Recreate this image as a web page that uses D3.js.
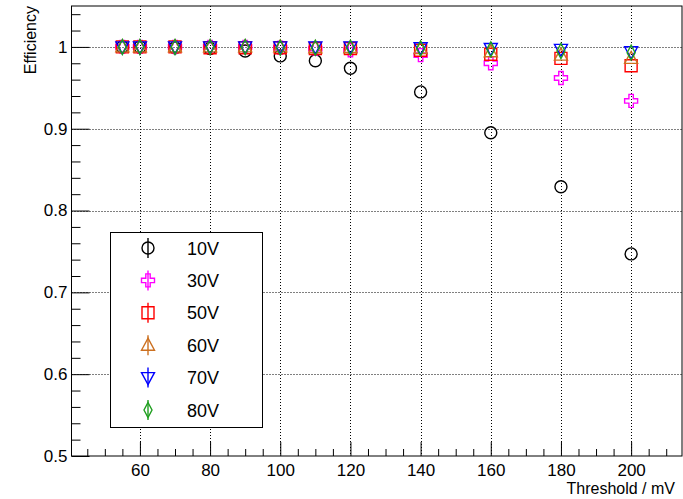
<!DOCTYPE html>
<html>
<head>
<meta charset="utf-8">
<script src="https://cdn.jsdelivr.net/npm/d3@7"></script>
<style>
  html, body { margin: 0; padding: 0; background: #fff; }
  svg { display: block; font-family: "Liberation Sans", Arial, Helvetica, sans-serif; }
</style>
</head>
<body>
<svg id="chart" width="683" height="499"></svg>
<script>
// Threshold scan: detection efficiency vs. discriminator threshold, per bias voltage
const thresholds = [55, 60, 70, 80, 90, 100, 110, 120, 140, 160, 180, 200];
const seriesNames = ["10V", "30V", "50V", "60V", "70V", "80V"];
const eff10V = [1.000, 1.000, 0.999, 0.998, 0.995, 0.989, 0.983, 0.974, 0.945, 0.895, 0.829, 0.747];
const eff30V = [1.000, 1.000, 1.000, 1.000, 1.000, 0.999, 0.998, 0.996, 0.990, 0.980, 0.962, 0.934];
const eff50V = [1.000, 1.000, 1.000, 0.999, 0.999, 0.999, 0.998, 0.998, 0.996, 0.991, 0.986, 0.977];
const eff60V = [1.000, 1.000, 1.000, 1.000, 1.000, 1.000, 0.999, 0.999, 0.998, 0.994, 0.990, 0.986];
const eff70V = [1.000, 1.000, 1.000, 1.000, 1.000, 1.000, 1.000, 1.000, 0.999, 0.998, 0.997, 0.994];
const eff80V = [1.000, 1.000, 1.000, 1.000, 1.000, 0.999, 0.999, 0.999, 0.998, 0.997, 0.995, 0.993];
const xTickValues = [60, 80, 100, 120, 140, 160, 180, 200];
const yTickValues = [0.5, 0.6, 0.7, 0.8, 0.9, 1.0];

const seriesValues = [eff10V, eff30V, eff50V, eff60V, eff70V, eff80V];
const colors = ["#000000", "#ff00ff", "#ff0000", "#cc7020", "#0000ff", "#1f9f1f"];
const shapes = ["circle", "cross", "square", "triUp", "triDown", "diamond"];

const svg = d3.select("#chart");
const frame = { left: 71.5, right: 682, top: 6, bottom: 456 };

const x = d3.scaleLinear().domain([40.5, 214.5]).range([frame.left, frame.right]);
const y = d3.scaleLinear().domain([0.5, 1.05]).range([frame.bottom, frame.top]);

// Dotted grid at the major ticks
const grid = svg.append("g").attr("stroke", "#000").attr("stroke-width", 1)
  .attr("stroke-dasharray", "1,2");
xTickValues.forEach(v => grid.append("line")
  .attr("x1", Math.round(x(v)) + 0.5).attr("x2", Math.round(x(v)) + 0.5)
  .attr("y1", frame.top).attr("y2", frame.bottom));
yTickValues.slice(1).forEach(v => grid.append("line")
  .attr("x1", frame.left).attr("x2", frame.right)
  .attr("y1", Math.round(y(v)) + 0.5).attr("y2", Math.round(y(v)) + 0.5));

// Axes: major + minor ticks drawn inward
const xMinor = d3.range(45, 215, 5).filter(v => v % 20 !== 0);
const yMinor = d3.range(0, 28).map(i => +(0.5 + i * 0.02).toFixed(2))
  .filter(v => Math.abs(v * 10 - Math.round(v * 10)) > 1e-6);

svg.append("g").attr("transform", `translate(0,${frame.bottom})`)
  .call(d3.axisBottom(x).tickValues(xTickValues).tickSize(-14).tickPadding(8)
    .tickFormat(d3.format("d")));
svg.append("g").attr("transform", `translate(0,${frame.bottom})`)
  .call(d3.axisBottom(x).tickValues(xMinor).tickSize(-7).tickFormat(""));

svg.append("g").attr("transform", `translate(${frame.left},0)`)
  .call(d3.axisLeft(y).tickValues(yTickValues).tickSize(-18).tickPadding(4)
    .tickFormat(d => d === 1 ? "1" : d3.format(".1f")(d)));
svg.append("g").attr("transform", `translate(${frame.left},0)`)
  .call(d3.axisLeft(y).tickValues(yMinor).tickSize(-9).tickFormat(""));

svg.selectAll(".domain").remove();
svg.selectAll(".tick line").attr("stroke", "#000");
svg.selectAll(".tick text").attr("font-size", 17).attr("fill", "#000")
  .attr("font-family", "Liberation Sans, Arial, sans-serif");

// Frame
svg.append("rect").attr("x", frame.left).attr("y", frame.top)
  .attr("width", frame.right - frame.left).attr("height", frame.bottom - frame.top)
  .attr("fill", "none").attr("stroke", "#000").attr("stroke-width", 1);

// Axis titles
svg.append("text").attr("x", 675).attr("y", 494).attr("text-anchor", "end")
  .attr("font-size", 16).text("Threshold / mV");
svg.append("text").attr("transform", `translate(36,${frame.top}) rotate(-90)`)
  .attr("text-anchor", "end").attr("font-size", 16).text("Efficiency");

// Open marker shapes, centred at the origin
function markerPath(shape) {
  const p = d3.path();
  switch (shape) {
    case "circle": p.arc(0, 0, 6, 0, 2 * Math.PI); break;
    case "square": p.rect(-6, -6, 12, 12); break;
    case "triUp": p.moveTo(0, -7); p.lineTo(6.5, 5); p.lineTo(-6.5, 5); p.closePath(); break;
    case "triDown": p.moveTo(0, 7); p.lineTo(6.5, -5); p.lineTo(-6.5, -5); p.closePath(); break;
    case "diamond": p.moveTo(0, -7.5); p.lineTo(4, 0); p.lineTo(0, 7.5); p.lineTo(-4, 0); p.closePath(); break;
    case "cross": {
      const a = 2.2, b = 6.5;
      p.moveTo(-a, -b); p.lineTo(a, -b); p.lineTo(a, -a); p.lineTo(b, -a); p.lineTo(b, a);
      p.lineTo(a, a); p.lineTo(a, b); p.lineTo(-a, b); p.lineTo(-a, a); p.lineTo(-b, a);
      p.lineTo(-b, -a); p.lineTo(-a, -a); p.closePath(); break;
    }
  }
  return p.toString();
}

// Data points
seriesValues.forEach((vals, si) => {
  svg.append("g").selectAll("path")
    .data(thresholds.map((t, i) => [t, vals[i]]))
    .join("path")
    .attr("transform", d => `translate(${x(d[0])},${y(d[1])})`)
    .attr("d", markerPath(shapes[si]))
    .attr("fill", "none").attr("stroke", colors[si]).attr("stroke-width", 1.4);
});

// Legend
const lg = { x: 110, y: 232, w: 152, h: 195 };
svg.append("rect").attr("x", lg.x + 0.5).attr("y", lg.y + 0.5).attr("width", lg.w).attr("height", lg.h)
  .attr("fill", "#fff").attr("stroke", "#000").attr("stroke-width", 1);
const rowY = d3.scalePoint().domain(seriesNames).range([lg.y + 16, lg.y + 178]);
seriesNames.forEach((name, si) => {
  const g = svg.append("g").attr("transform", `translate(${lg.x + 38},${rowY(name)})`);
  g.append("line").attr("x1", 0).attr("x2", 0).attr("y1", -10).attr("y2", 10)
    .attr("stroke", colors[si]).attr("stroke-width", 1.4);
  g.append("path").attr("d", markerPath(shapes[si]))
    .attr("fill", "none").attr("stroke", colors[si]).attr("stroke-width", 1.4);
  svg.append("text").attr("x", lg.x + 77).attr("y", rowY(name) + 6.5)
    .attr("font-size", 18).attr("fill", "#000").text(name);
});
</script>
</body>
</html>
